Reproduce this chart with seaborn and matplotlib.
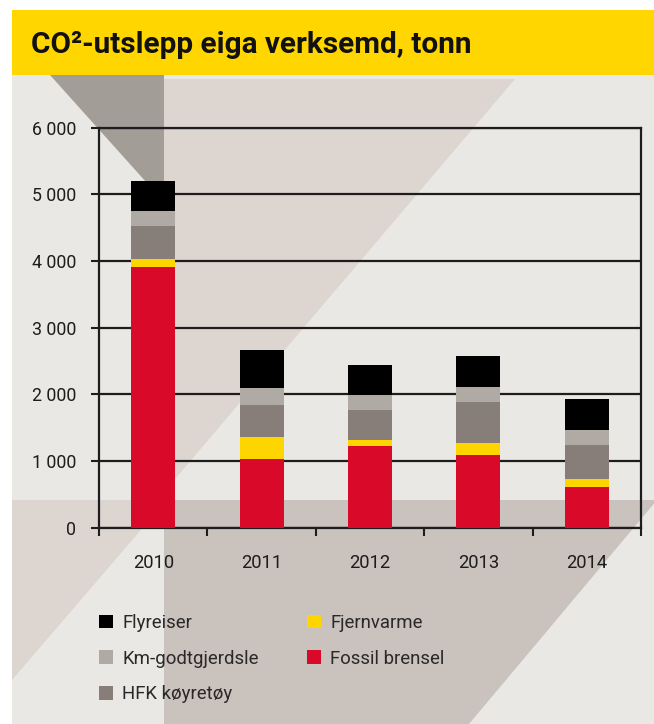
import numpy as np
import pandas as pd
import matplotlib
matplotlib.use("Agg")
import matplotlib.pyplot as plt
from matplotlib import font_manager
from matplotlib.patches import Polygon, Rectangle
import seaborn as sns

# ---- data (tonn CO2 per year, by source) ----
years = ["2010", "2011", "2012", "2013", "2014"]
fossil_brensel = [3910, 1030, 1220, 1085, 605]
fjernvarme = [120, 330, 90, 180, 120]
hfk_koyretoy = [495, 480, 450, 615, 510]
km_godtgjerdsle = [225, 255, 225, 225, 225]
flyreiser = [450, 570, 450, 465, 465]

y_ticks = [0, 1000, 2000, 3000, 4000, 5000, 6000]
y_tick_labels = ["0", "1 000", "2 000", "3 000", "4 000", "5 000", "6 000"]

title = "CO²-utslepp eiga verksemd, tonn"

# ---- styling ----
sns.set_theme(style="white")
available = {f.name for f in font_manager.fontManager.ttflist}
family = next((f for f in ["Roboto", "Open Sans", "DejaVu Sans"] if f in available), "DejaVu Sans")
plt.rcParams["font.family"] = [family, "DejaVu Sans"]

c_fossil = "#D90A29"
c_fjern = "#FFD500"
c_hfk = "#877E79"
c_km = "#AFAAA4"
c_fly = "#000000"
ink = "#1E1C1C"

W, H = 654, 724
fig = plt.figure(figsize=(W / 100, H / 100), dpi=100, facecolor="white")

# ---- decorative backdrop in pixel coordinates ----
bg = fig.add_axes([0, 0, 1, 1], zorder=0)
bg.set_xlim(0, W)
bg.set_ylim(H, 0)
bg.axis("off")
bg.add_patch(Rectangle((12, 75), W - 12, H - 75, color="#EAE8E4", lw=0))
bg.add_patch(Rectangle((12, 10), W - 12, 65, color="#FFD600", lw=0))
bg.add_patch(Polygon([(164, 79), (515, 79), (164, 492)], closed=True, color="#DDD5D0", lw=0))
bg.add_patch(Polygon([(50, 75), (164, 75), (164, 202)], closed=True, color="#A39D98", lw=0))
bg.add_patch(Polygon([(12, 500), (164, 500), (164, 503), (12, 680)], closed=True, color="#DCD5D0", lw=0))
bg.add_patch(Polygon([(164, 500), (657, 500), (469, 724), (164, 724)], closed=True, color="#C9C2BD", lw=0))

fig.text(31 / W, 1 - 53 / H, title, ha="left", va="baseline",
         fontsize=21.4, fontweight="bold", color="#111111")

# ---- chart ----
ax = fig.add_axes([99 / W, (H - 527.7) / H, 542 / W, 400 / H], zorder=1)
ax.patch.set_alpha(0)

df = pd.DataFrame({
    "year": years,
    "Fossil brensel": fossil_brensel,
    "Fjernvarme": fjernvarme,
    "HFK køyretøy": hfk_koyretoy,
    "Km-godtgjerdsle": km_godtgjerdsle,
    "Flyreiser": flyreiser,
})

# stacked look: draw cumulative totals from the top layer down
stack = ["Fossil brensel", "Fjernvarme", "HFK køyretøy", "Km-godtgjerdsle", "Flyreiser"]
colors = {"Fossil brensel": c_fossil, "Fjernvarme": c_fjern, "HFK køyretøy": c_hfk,
          "Km-godtgjerdsle": c_km, "Flyreiser": c_fly}
cum = df[stack].cumsum(axis=1)
handles = {}
for name in reversed(stack):
    sns.barplot(x=df["year"], y=cum[name], color=colors[name], saturation=1,
                width=0.406, errorbar=None, label=name, ax=ax,
                edgecolor="none", linewidth=0, zorder=3)
    handles[name] = ax.containers[-1]

ax.set_xlim(-0.5, 4.5)
ax.set_ylim(0, 6000)
ax.set_xlabel("")
ax.set_ylabel("")

ax.set_yticks(y_ticks, labels=y_tick_labels)
ax.yaxis.grid(True, color=ink, lw=1.6)
ax.set_axisbelow(True)

ax.set_xticks(np.arange(-0.5, 5, 1))
ax.set_xticklabels([])
ax.set_xticks(np.arange(5), minor=True)
ax.set_xticklabels(years, minor=True)

ax.tick_params(axis="y", which="major", direction="out", length=5.5, width=1.5,
               color=ink, pad=11, labelsize=12.8, labelcolor=ink, left=True)
ax.tick_params(axis="x", which="major", direction="out", length=5.5, width=1.5,
               color=ink, bottom=True)
ax.tick_params(axis="x", which="minor", length=0, pad=19.2, labelsize=13.2, labelcolor=ink)

for side in ["left", "right", "bottom", "top"]:
    ax.spines[side].set_visible(True)
    ax.spines[side].set_color(ink)
    ax.spines[side].set_linewidth(1.6)

# ---- legend in two columns ----
leg_kw = dict(frameon=False, fontsize=13.4, handlelength=0.75, handleheight=0.75,
              handletextpad=0.5, labelspacing=0.95, borderpad=0, borderaxespad=0,
              loc="upper left", bbox_transform=fig.transFigure, labelcolor="#2A2828")
col1 = ["Flyreiser", "Km-godtgjerdsle", "HFK køyretøy"]
col2 = ["Fjernvarme", "Fossil brensel"]
leg1 = ax.legend([handles[n] for n in col1], col1,
                 bbox_to_anchor=(99 / W, 1 - 614 / H), **leg_kw)
ax.add_artist(leg1)
ax.legend([handles[n] for n in col2], col2,
          bbox_to_anchor=(307 / W, 1 - 614 / H), **leg_kw)

fig.savefig("out.png", dpi=100, facecolor="white")
